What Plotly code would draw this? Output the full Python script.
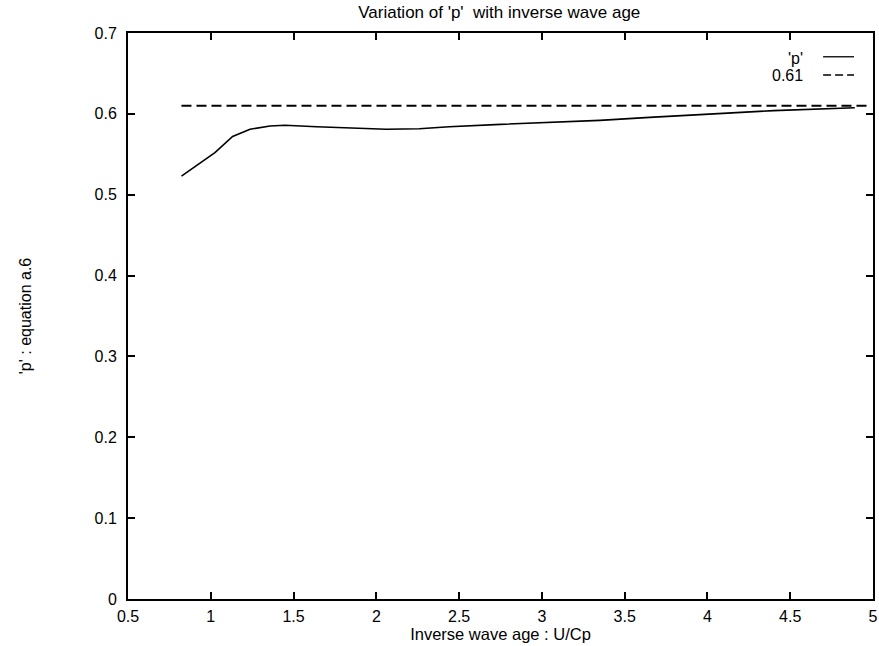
import plotly.graph_objects as go

# Data
inv_wave_age = [0.823, 1.025, 1.132, 1.237, 1.358, 1.448, 1.639, 1.86, 2.06, 2.26,
                2.44, 2.75, 3.05, 3.35, 3.65, 3.99, 4.40, 4.89]
p_values = [0.523, 0.552, 0.572, 0.581, 0.585, 0.586, 0.584, 0.582, 0.581, 0.5816,
            0.584, 0.587, 0.5895, 0.592, 0.5957, 0.5994, 0.604, 0.6076]
const_x = [0.823, 4.98]
const_y = [0.61, 0.61]

x_ticks = [0.5, 1, 1.5, 2, 2.5, 3, 3.5, 4, 4.5, 5]
x_ticklabels = ["0.5", "1", "1.5", "2", "2.5", "3", "3.5", "4", "4.5", "5"]
y_ticks = [0, 0.1, 0.2, 0.3, 0.4, 0.5, 0.6, 0.7]
y_ticklabels = ["0", "0.1", "0.2", "0.3", "0.4", "0.5", "0.6", "0.7"]

FONT = "Liberation Sans, Arial, Helvetica, sans-serif"

fig = go.Figure()
fig.add_trace(go.Scatter(x=inv_wave_age, y=p_values, mode="lines", name="'p'",
                         line=dict(color="black", width=1.6), showlegend=False))
fig.add_trace(go.Scatter(x=const_x, y=const_y, mode="lines", name="0.61",
                         line=dict(color="black", width=1.8, dash="10px,5px"),
                         showlegend=False))

axis_common = dict(showgrid=False, zeroline=False, showline=True, linecolor="black",
                   linewidth=2, mirror="ticks", ticks="inside", ticklen=7,
                   tickwidth=1.5, tickcolor="black",
                   tickfont=dict(family=FONT, size=16, color="black"))

fig.update_xaxes(range=[0.5, 5], tickvals=x_ticks, ticktext=x_ticklabels,
                 ticklabelstandoff=2,
                 title=dict(text="Inverse wave age : U/Cp", standoff=0,
                            font=dict(family=FONT, size=16.5, color="black")),
                 **axis_common)
fig.update_yaxes(range=[0, 0.7], tickvals=y_ticks, ticktext=y_ticklabels,
                 ticklabelstandoff=6,
                 title=dict(text="'p' : equation a.6", standoff=59,
                            font=dict(family=FONT, size=16, color="black")),
                 **axis_common)

# gnuplot-style key (text left of the sample line)
fig.add_annotation(x=0.909, y=0.955, xref="paper", yref="paper", text="'p'",
                   showarrow=False, xanchor="right", yanchor="middle",
                   font=dict(family=FONT, size=16, color="black"))
fig.add_annotation(x=0.909, y=0.925, xref="paper", yref="paper", text="0.61",
                   showarrow=False, xanchor="right", yanchor="middle",
                   font=dict(family=FONT, size=16, color="black"))
fig.add_shape(type="line", xref="paper", yref="paper", x0=0.933, x1=0.9745,
              y0=0.958, y1=0.958, line=dict(color="black", width=1.3))
fig.add_shape(type="line", xref="paper", yref="paper", x0=0.933, x1=0.9745,
              y0=0.926, y1=0.926, line=dict(color="black", width=1.5, dash="8px,4px"))

fig.update_layout(
    width=879, height=646,
    margin=dict(l=128, r=6, t=33, b=47, autoexpand=False),
    paper_bgcolor="white", plot_bgcolor="white",
    title=dict(text="Variation of 'p'  with inverse wave age", x=0.568, xanchor="center",
               y=0.99, yanchor="top",
               font=dict(family=FONT, size=17, color="black")),
    font=dict(family=FONT, size=16, color="black"),
)

fig.write_html("out.html",
               config={"displayModeBar": False},
               post_script="document.body.style.margin='0';"
                           "document.body.style.overflow='hidden';")
